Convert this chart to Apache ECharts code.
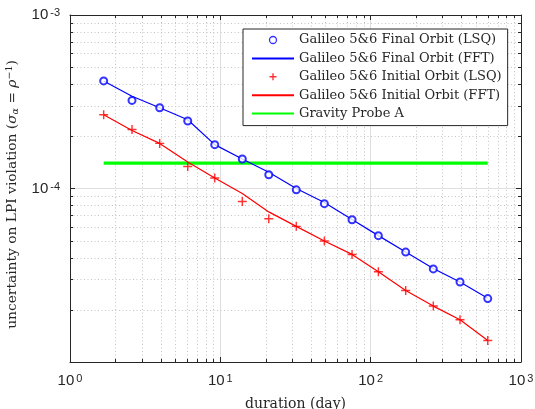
<!DOCTYPE html>
<html>
<head>
<meta charset="utf-8">
<script src="https://cdn.jsdelivr.net/npm/echarts@6/dist/echarts.min.js"></script>
<style>
html,body{margin:0;padding:0;background:#fff;}
#chart{width:535px;height:409px;}
</style>
</head>
<body>
<div id="chart"></div>
<script>
// ---- data ----
const durations = [1.675, 2.585, 3.95, 6.07, 9.18, 14.0, 21.0, 32.0, 49.2, 75.2, 112.5, 171, 261, 393, 601];
const finalLSQ   = [4.17e-4, 3.22e-4, 2.92e-4, 2.45e-4, 1.79e-4, 1.48e-4, 1.20e-4, 9.82e-5, 8.18e-5, 6.61e-5, 5.35e-5, 4.30e-5, 3.44e-5, 2.89e-5, 2.32e-5];
const finalFFT   = [4.17e-4, 3.40e-4, 2.92e-4, 2.49e-4, 1.79e-4, 1.48e-4, 1.24e-4, 1.00e-4, 8.30e-5, 6.62e-5, 5.35e-5, 4.30e-5, 3.46e-5, 2.89e-5, 2.33e-5];
const initialLSQ = [2.66e-4, 2.19e-4, 1.82e-4, 1.34e-4, 1.15e-4, 8.41e-5, 6.70e-5, 6.05e-5, 4.98e-5, 4.17e-5, 3.31e-5, 2.58e-5, 2.10e-5, 1.75e-5, 1.33e-5];
const initialFFT = [2.66e-4, 2.16e-4, 1.82e-4, 1.42e-4, 1.15e-4, 9.37e-5, 7.33e-5, 6.05e-5, 4.98e-5, 4.17e-5, 3.31e-5, 2.58e-5, 2.10e-5, 1.75e-5, 1.33e-5];
const gpaDurations = [1.675, 601];
const gpaValues    = [1.4e-4, 1.4e-4];
const seriesNames = [
  'Galileo 5&6 Final Orbit (LSQ)',
  'Galileo 5&6 Final Orbit (FFT)',
  'Galileo 5&6 Initial Orbit (LSQ)',
  'Galileo 5&6 Initial Orbit (FFT)',
  'Gravity Probe A'
];
const xTitle = 'duration (day)';
const xRange = [1, 1000];
const yRange = [1e-5, 1e-3];

// minor tick positions (2..9 per decade)
const xMinor = [], yMinor = [];
for (let d = 1; d <= 100; d *= 10) for (let k = 2; k <= 9; k++) xMinor.push(k * d);
for (let d = 1e-5; d <= 1e-4 * 1.01; d *= 10) for (let k = 2; k <= 9; k++) yMinor.push(k * d);

const pairs = (xs, ys) => xs.map((x, i) => [x, ys[i]]);

const AX = '#262626';
const SANS = 'Liberation Sans';
const SERIF = '"DejaVu Serif", "Liberation Serif", serif';
const plusPath = 'path://M4.2,0h1.6v4.2h4.2v1.6h-4.2v4.2h-1.6v-4.2h-4.2v-1.6h4.2z';
const plusLegend = 'path://M4,0h2v4h4v2h-4v4h-2v-4h-4v-2h4z';

const xRich = {
  base: {fontSize: 15, fontFamily: SANS, color: AX, lineHeight: 15, verticalAlign: 'bottom'},
  sup: {fontSize: 11, fontFamily: SANS, color: AX, lineHeight: 11, verticalAlign: 'top', padding: [0, 0, 8, 2]}
};
const yRich = {
  base: {fontSize: 15, fontFamily: SANS, color: AX, lineHeight: 15, verticalAlign: 'bottom'},
  sup: {fontSize: 11, fontFamily: SANS, color: AX, lineHeight: 11, verticalAlign: 'top', padding: [0, 0, 11, 2]}
};
function expLabel(v) {
  const e = Math.round(Math.log10(v));
  return '{base|10}{sup|' + e + '}';
}

const minorData = xMinor.map(v => [v, 1e-4, 0]).concat(yMinor.map(v => [10, v, 1]));

function renderMinor(params, api) {
  const cs = params.coordSys;
  const which = api.value(2);
  const ch = [];
  const dotted = {stroke: '#c4c4c4', lineWidth: 1, lineDash: [1, 2.5]};
  const tk = {stroke: AX, lineWidth: 1};
  const L = 3;
  if (which === 0) {
    const x = Math.round(api.coord([api.value(0), 1e-4])[0]) + 0.5;
    const t = cs.y, b = cs.y + cs.height;
    ch.push({type: 'line', shape: {x1: x, y1: t, x2: x, y2: b}, style: dotted});
    ch.push({type: 'line', shape: {x1: x, y1: b, x2: x, y2: b - L}, style: tk});
    ch.push({type: 'line', shape: {x1: x, y1: t, x2: x, y2: t + L}, style: tk});
  } else {
    const y = Math.round(api.coord([10, api.value(1)])[1]) + 0.5;
    const l = cs.x, r = cs.x + cs.width;
    ch.push({type: 'line', shape: {x1: l, y1: y, x2: r, y2: y}, style: dotted});
    ch.push({type: 'line', shape: {x1: l, y1: y, x2: l + L, y2: y}, style: tk});
    ch.push({type: 'line', shape: {x1: r, y1: y, x2: r - L, y2: y}, style: tk});
  }
  return {type: 'group', children: ch};
}

const hideSym = {color: 'transparent', borderColor: 'transparent', borderWidth: 0, opacity: 0};
const legendData = [
  {name: seriesNames[0], icon: 'circle', itemStyle: {color: '#fff', borderColor: '#0000ff', borderWidth: 1.3}},
  {name: seriesNames[1], itemStyle: hideSym},
  {name: seriesNames[2], icon: plusLegend, itemStyle: {color: '#ff0000'}},
  {name: seriesNames[3], itemStyle: hideSym},
  {name: seriesNames[4], itemStyle: hideSym}
];

const chart = echarts.init(document.getElementById('chart'), null, {renderer: 'canvas'});
const baseAxis = {
  type: 'log', logBase: 10,
  axisLine: {show: true, onZero: false, lineStyle: {color: AX, width: 1}},
  axisTick: {show: true, inside: true, length: 5, lineStyle: {color: AX, width: 1}},
  minorTick: {show: false},
  splitLine: {show: false}
};
chart.setOption({
  animation: false,
  backgroundColor: '#fff',
  grid: {left: 70, right: 14, top: 15, bottom: 47, containLabel: false, outerBoundsMode: 'none'},
  legend: {
    data: legendData,
    orient: 'vertical',
    left: 243, top: 29,
    backgroundColor: '#fff',
    borderColor: '#262626', borderWidth: 1,
    padding: [4, 6, 5, 8],
    itemWidth: 42, itemHeight: 7, itemGap: 4.4,
    textStyle: {fontFamily: SERIF, fontSize: 13, color: '#262626', lineHeight: 14},
    selectedMode: false
  },
  xAxis: [
    Object.assign({}, baseAxis, {
      min: xRange[0], max: xRange[1], position: 'bottom',
      axisLabel: {formatter: expLabel, rich: xRich, margin: 11, fontFamily: SANS, fontSize: 15, color: AX, hideOverlap: false},
      splitLine: {show: true, lineStyle: {color: '#dedede', width: 1}},
      name: xTitle, nameLocation: 'middle', nameGap: 35,
      nameTextStyle: {fontFamily: SERIF, fontSize: 14, color: AX}
    }),
    Object.assign({}, baseAxis, {
      min: xRange[0], max: xRange[1], position: 'top',
      axisLabel: {show: false}
    })
  ],
  yAxis: [
    Object.assign({}, baseAxis, {
      min: yRange[0], max: yRange[1], position: 'left',
      axisLabel: {
        formatter: v => (Math.round(Math.log10(v)) <= -5 ? '' : expLabel(v)),
        rich: yRich, margin: 10, fontFamily: SANS, fontSize: 15, color: AX, hideOverlap: false
      },
      splitLine: {show: true, lineStyle: {color: '#dedede', width: 1}},
      name: '{m|uncertainty on LPI violation (}{i|σ}{s|α}{m| = }{i|ρ}{p|−1}{m|)}',
      nameLocation: 'middle', nameGap: 39, nameRotate: 90,
      nameTextStyle: {
        fontFamily: SERIF, fontSize: 13.8, color: AX,
        padding: [0, 12, 0, 0],
        rich: {
          m: {fontFamily: SERIF, fontSize: 13.8, color: AX, lineHeight: 16, verticalAlign: 'middle'},
          i: {fontFamily: SERIF, fontStyle: 'italic', fontSize: 13.8, color: AX, lineHeight: 16, verticalAlign: 'middle'},
          s: {fontFamily: SERIF, fontStyle: 'italic', fontSize: 9.5, color: AX, lineHeight: 10, verticalAlign: 'bottom'},
          p: {fontFamily: SERIF, fontSize: 9.5, color: AX, lineHeight: 10, verticalAlign: 'top'}
        }
      }
    }),
    Object.assign({}, baseAxis, {
      min: yRange[0], max: yRange[1], position: 'right',
      axisLabel: {show: false}
    })
  ],
  series: [
    {
      type: 'custom', name: 'minor', xAxisIndex: 0, yAxisIndex: 0,
      renderItem: renderMinor, data: minorData, silent: true, z: 1, clip: false
    },
    {
      name: seriesNames[0], type: 'scatter', data: pairs(durations, finalLSQ),
      symbol: 'emptyCircle', symbolSize: 7, z: 5,
      itemStyle: {color: '#0000ff', borderColor: '#0000ff', borderWidth: 1.3}
    },
    {
      name: seriesNames[1], type: 'line', data: pairs(durations, finalFFT),
      symbol: 'none', showSymbol: false, z: 4,
      lineStyle: {color: '#0000ff', width: 1.2}, itemStyle: {color: '#0000ff'}
    },
    {
      name: seriesNames[2], type: 'scatter', data: pairs(durations, initialLSQ),
      symbol: plusPath, symbolSize: 9, z: 5,
      itemStyle: {color: '#ff0000'}
    },
    {
      name: seriesNames[3], type: 'line', data: pairs(durations, initialFFT),
      symbol: 'none', showSymbol: false, z: 4,
      lineStyle: {color: '#ff0000', width: 1.2}, itemStyle: {color: '#ff0000'}
    },
    {
      name: seriesNames[4], type: 'line', data: pairs(gpaDurations, gpaValues),
      symbol: 'none', showSymbol: false, z: 3,
      lineStyle: {color: '#00ff00', width: 3.2}, itemStyle: {color: '#00ff00'}
    }
  ]
});
</script>
</body>
</html>
